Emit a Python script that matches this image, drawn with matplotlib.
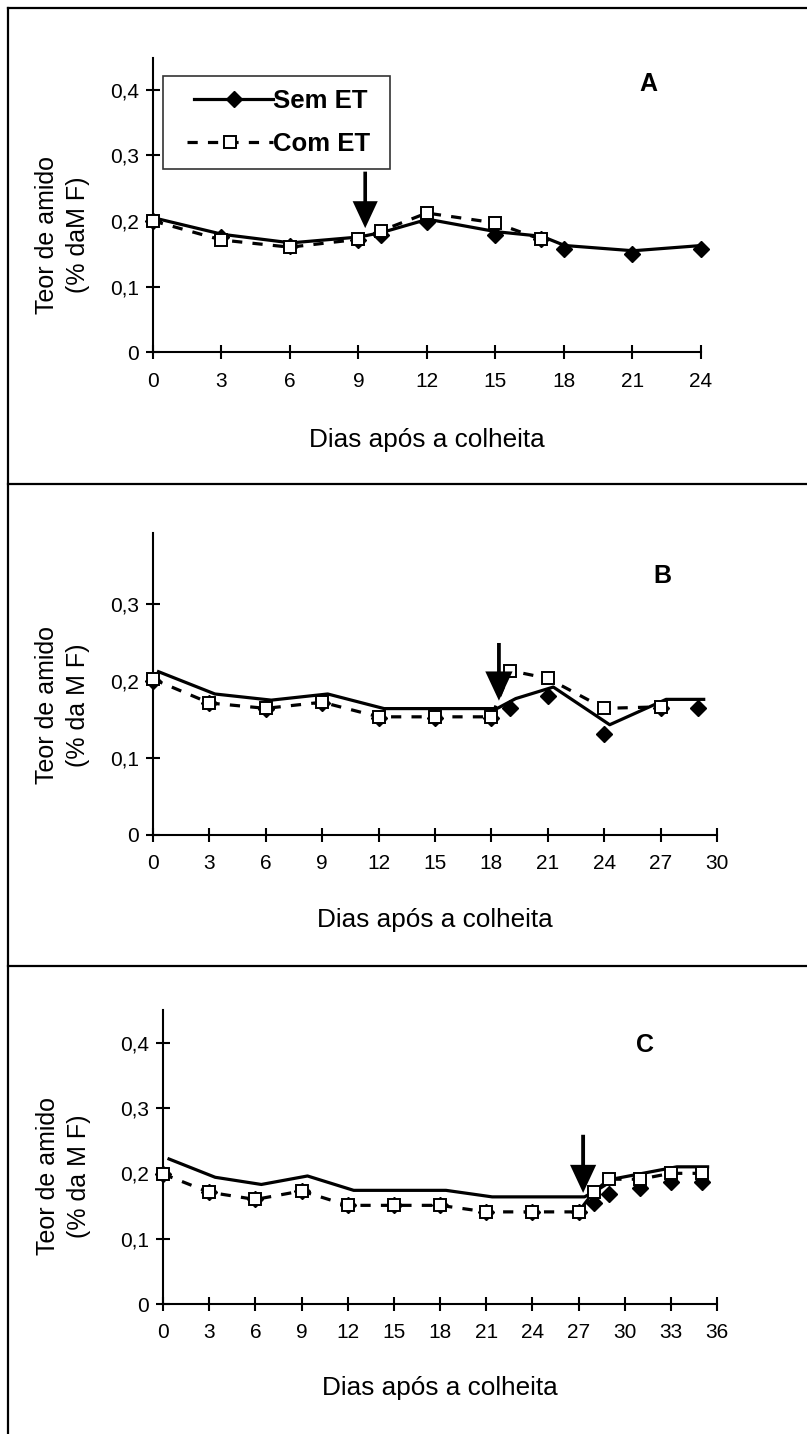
import matplotlib
matplotlib.use('Agg')
import matplotlib.pyplot as plt
from matplotlib.lines import Line2D
from matplotlib.transforms import offset_copy
from matplotlib.legend_handler import HandlerLine2D

plt.rcParams['font.family'] = ['Liberation Sans', 'DejaVu Sans']

# ---------------- data ----------------
a_sem_days = [0, 3, 6, 9, 10, 12, 15, 17, 18, 21, 24]
a_sem = [0.200, 0.175, 0.162, 0.171, 0.178, 0.198, 0.179, 0.172, 0.158, 0.150, 0.158]
a_com_days = [0, 3, 6, 9, 10, 12, 15, 17]
a_com = [0.200, 0.171, 0.160, 0.172, 0.185, 0.212, 0.197, 0.172]

b_sem_days = [0, 3, 6, 9, 12, 15, 18, 19, 21, 24, 27, 29]
b_sem = [0.200, 0.171, 0.163, 0.171, 0.152, 0.152, 0.152, 0.165, 0.180, 0.131, 0.164, 0.164]
b_com_days = [0, 3, 6, 9, 12, 15, 18, 19, 21, 24, 27]
b_com = [0.202, 0.171, 0.164, 0.172, 0.153, 0.153, 0.153, 0.213, 0.203, 0.164, 0.166]

c_sem_days = [0, 3, 6, 9, 12, 15, 18, 21, 24, 27, 28, 29, 31, 33, 35]
c_sem = [0.199, 0.171, 0.160, 0.173, 0.151, 0.151, 0.151, 0.141, 0.141, 0.141,
         0.154, 0.169, 0.178, 0.187, 0.187]
c_com_days = [0, 3, 6, 9, 12, 15, 18, 21, 24, 27, 28, 29, 31, 33, 35]
c_com = [0.199, 0.171, 0.160, 0.173, 0.151, 0.151, 0.151, 0.141, 0.141, 0.141,
         0.172, 0.191, 0.191, 0.200, 0.200]

y_ticks_ac = [0, 0.1, 0.2, 0.3, 0.4]
y_labels_ac = ["0", "0,1", "0,2", "0,3", "0,4"]
y_ticks_b = [0, 0.1, 0.2, 0.3]
y_labels_b = ["0", "0,1", "0,2", "0,3"]
x_ticks_a = list(range(0, 25, 3))
x_ticks_b = list(range(0, 31, 3))
x_ticks_c = list(range(0, 37, 3))

xlabel = "Dias após a colheita"
ylabel_a = "Teor de amido\n(% daM F)"
ylabel_bc = "Teor de amido\n(% da M F)"
legend_labels = ["Sem ET", "Com ET"]

# ---------------- figure ----------------
W, H = 807, 1434
fig = plt.figure(figsize=(W / 100, H / 100), dpi=100)

DASH = (0, (3.2, 3.2))


def add_ax(left, right, top, bottom):
    return fig.add_axes([left / W, 1 - bottom / H, (right - left) / W, (bottom - top) / H])


def style(ax, xt, yt, yl, xmax, ymax, ylab, ylab_xy, xlab_y):
    ax.set_xlim(0, xmax)
    ax.set_ylim(0, ymax)
    for s in ['top', 'right']:
        ax.spines[s].set_visible(False)
    for s in ['left', 'bottom']:
        ax.spines[s].set_linewidth(1.5)
        ax.spines[s].set_color('black')
    ax.set_xticks(xt)
    ax.set_xticklabels([str(t) for t in xt])
    ax.set_yticks(yt)
    ax.set_yticklabels(yl)
    ax.tick_params(axis='both', direction='inout', length=10, width=1.5,
                   labelsize=15, colors='black')
    ax.tick_params(axis='x', pad=9)
    ax.tick_params(axis='y', pad=5)
    ax.set_ylabel(ylab, fontsize=18, linespacing=1.37)
    ax.yaxis.label.set_va('center')
    ax.yaxis.set_label_coords(*ylab_xy)
    ax.set_xlabel(xlabel, fontsize=18.8)
    ax.xaxis.label.set_va('center')
    ax.xaxis.set_label_coords(0.5, xlab_y)
    ax.patch.set_visible(False)


def draw(ax, sd, sv, cd, cv, dx, dy):
    tr = offset_copy(ax.transData, fig=fig, x=dx, y=dy, units='dots')
    ax.plot(sd, sv, color='black', lw=2.3, transform=tr, clip_on=False, zorder=3)
    ax.plot(sd, sv, linestyle='none', marker='D', markersize=8.3, color='black',
            clip_on=False, zorder=4)
    ax.plot(cd, cv, color='black', lw=2.3, linestyle=DASH, marker='s',
            markersize=9, markerfacecolor='white', markeredgecolor='black',
            markeredgewidth=1.4, clip_on=False, zorder=5)


def arrow(ax, x, top, tip, shaft_w, head_w, head_l):
    ax.arrow(x, top, 0, -(top - tip), width=shaft_w, head_width=head_w,
             head_length=head_l, length_includes_head=True, color='black',
             lw=0, zorder=6, clip_on=False)


# Panel A
axA = add_ax(153, 700.6, 58, 352.3)
style(axA, x_ticks_a, y_ticks_ac, y_labels_ac, 24, 0.448, ylabel_a, (-0.166, 0.40), -0.298)
draw(axA, a_sem_days, a_sem, a_com_days, a_com, 1, 3)
arrow(axA, 9.3, 0.275, 0.189, 0.16, 1.1, 0.041)
axA.text(21.7, 0.408, "A", fontsize=18, fontweight='bold', ha='center', va='center')
handles = [Line2D([], [], color='black', lw=2.3, marker='D', markersize=8.3),
           Line2D([], [], color='black', lw=2.3, linestyle=DASH, marker='s',
                  markersize=9, markerfacecolor='white', markeredgecolor='black',
                  markeredgewidth=1.4)]
leg = axA.legend(handles, [l + " " for l in legend_labels], loc='upper left',
                 bbox_to_anchor=(0.018, 0.94),
                 borderaxespad=0, frameon=True, fancybox=False, handlelength=3.8,
                 handletextpad=0.0, borderpad=0.5, labelspacing=0.75, numpoints=1,
                 handler_map={handles[0]: HandlerLine2D(xpad=0.7),
                              handles[1]: HandlerLine2D(xpad=0.45)},
                 prop={'weight': 'bold', 'size': 18.5})
leg.get_frame().set_edgecolor('black')
leg.get_frame().set_linewidth(1.2)

# Panel B
axB = add_ax(153, 717, 533, 834.5)
style(axB, x_ticks_b, y_ticks_b, y_labels_b, 30, 0.392, ylabel_bc, (-0.161, 0.43), -0.284)
draw(axB, b_sem_days, b_sem, b_com_days, b_com, 5.5, 9)
arrow(axB, 18.4, 0.249, 0.174, 0.2, 1.45, 0.038)
axB.text(27.1, 0.336, "B", fontsize=18, fontweight='bold', ha='center', va='center')

# Panel C
axC = add_ax(163, 717, 1010, 1304)
style(axC, x_ticks_c, y_ticks_ac, y_labels_ac, 36, 0.45, ylabel_bc, (-0.180, 0.435), -0.286)
draw(axC, c_sem_days, c_sem, c_com_days, c_com, 6, 15)
arrow(axC, 27.3, 0.259, 0.170, 0.25, 1.7, 0.043)
axC.text(31.3, 0.396, "C", fontsize=18, fontweight='bold', ha='center', va='center')


# frame lines
def fline(x0, y0, x1, y1):
    fig.add_artist(Line2D([x0 / W, x1 / W], [1 - y0 / H, 1 - y1 / H], color='black',
                          lw=1.6, transform=fig.transFigure))


fline(8, 8, W, 8)
fline(8, 8, 8, H)
fline(8, 484, W, 484)
fline(8, 966, W, 966)

fig.savefig('out.png', dpi=100)
